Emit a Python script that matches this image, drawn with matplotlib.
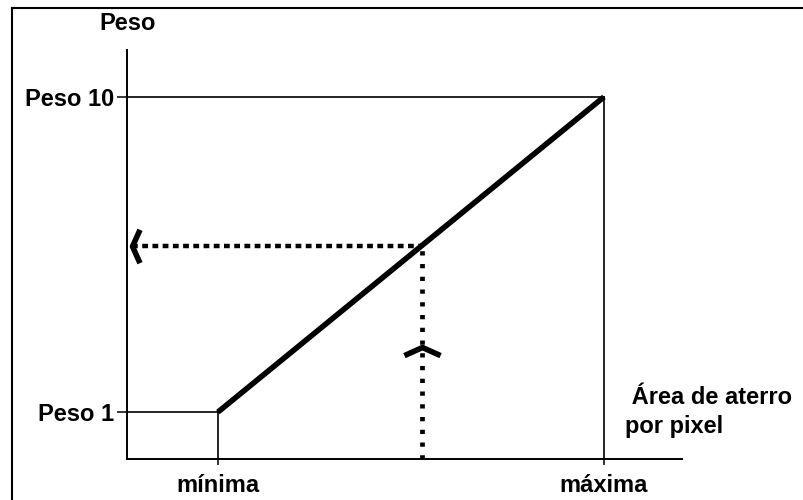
import matplotlib
matplotlib.use("Agg")
import matplotlib.pyplot as plt
from matplotlib.path import Path
from matplotlib.lines import Line2D

plt.rcParams['font.family'] = ['Liberation Sans', 'DejaVu Sans']

# chart values (arbitrary units)
area_points = [1, 10]          # minima, maxima
weight_points = [1, 10]        # Peso 1, Peso 10
area_labels = ['mínima', 'máxima']
weight_labels = ['Peso 1', 'Peso 10']
reading_area = 5.75
reading_weight = 5.75
up_arrow_weight = 2.85

xlim = (-1.12, 11.82)
ylim = (-0.34, 11.34)
FS = 17

fig = plt.figure(figsize=(8.04, 5.0), dpi=100)
W, H = 804, 500
ax = fig.add_axes([127 / W, 1 - 459 / H, (682 - 127) / W, (459 - 50) / H])
ax.set_xlim(*xlim)
ax.set_ylim(*ylim)

for s in ['top', 'right']:
    ax.spines[s].set_visible(False)
for s in ['left', 'bottom']:
    ax.spines[s].set_linewidth(1.4)

ax.set_xticks(area_points, area_labels, fontsize=FS, fontweight='bold')
ax.set_yticks(weight_points, weight_labels, fontsize=FS, fontweight='bold')
ax.tick_params(axis='y', length=7.2, width=1.1, pad=2)
ax.tick_params(axis='x', length=4.5, width=1.1, pad=6)

# guide lines
ax.plot([xlim[0], area_points[1]], [weight_points[1]] * 2, color='black', lw=1.2)
ax.plot([xlim[0], area_points[0]], [weight_points[0]] * 2, color='black', lw=1.2)
ax.plot([area_points[0]] * 2, [ylim[0], weight_points[0]], color='black', lw=1.2)
ax.plot([area_points[1]] * 2, [ylim[0], weight_points[1]], color='black', lw=1.2)

# weight function
ax.plot(area_points, weight_points, color='black', lw=4, solid_capstyle='butt')

# reading lines
ax.plot([xlim[0] + 0.12, reading_area], [reading_weight] * 2, color='black',
        lw=3.2, linestyle=(0, (1.3, 1.0)))
ax.plot([reading_area] * 2, [ylim[0], reading_weight], color='black',
        lw=3.4, linestyle=(0, (0.9, 1.8)))

chev_up = Path([(-1, -0.45), (0, 0), (1, -0.45)], [Path.MOVETO, Path.LINETO, Path.LINETO])
chev_left = Path([(0.45, 1), (0, 0), (0.45, -1)], [Path.MOVETO, Path.LINETO, Path.LINETO])
ax.plot([reading_area], [up_arrow_weight], marker=chev_up, markersize=26,
        markerfacecolor='none', markeredgecolor='black', markeredgewidth=4)
ax.plot([xlim[0] + 0.12], [reading_weight], marker=chev_left, markersize=24,
        markerfacecolor='none', markeredgecolor='black', markeredgewidth=4)

# axis titles
fig.text(128 / W, 1 - 24 / H, 'Peso', fontsize=FS, fontweight='bold',
         ha='center', va='center')
fig.text(625 / W, 1 - 412 / H, ' Área de aterro\npor pixel', fontsize=FS,
         fontweight='bold', ha='left', va='center', linespacing=1.3)

# frame
fig.add_artist(Line2D([12 / W, 12 / W], [0, 1 - 8 / H], color='black', lw=1.5))
fig.add_artist(Line2D([12 / W, 1], [1 - 8 / H, 1 - 8 / H], color='black', lw=1.5))

fig.savefig('out.png', dpi=100)
